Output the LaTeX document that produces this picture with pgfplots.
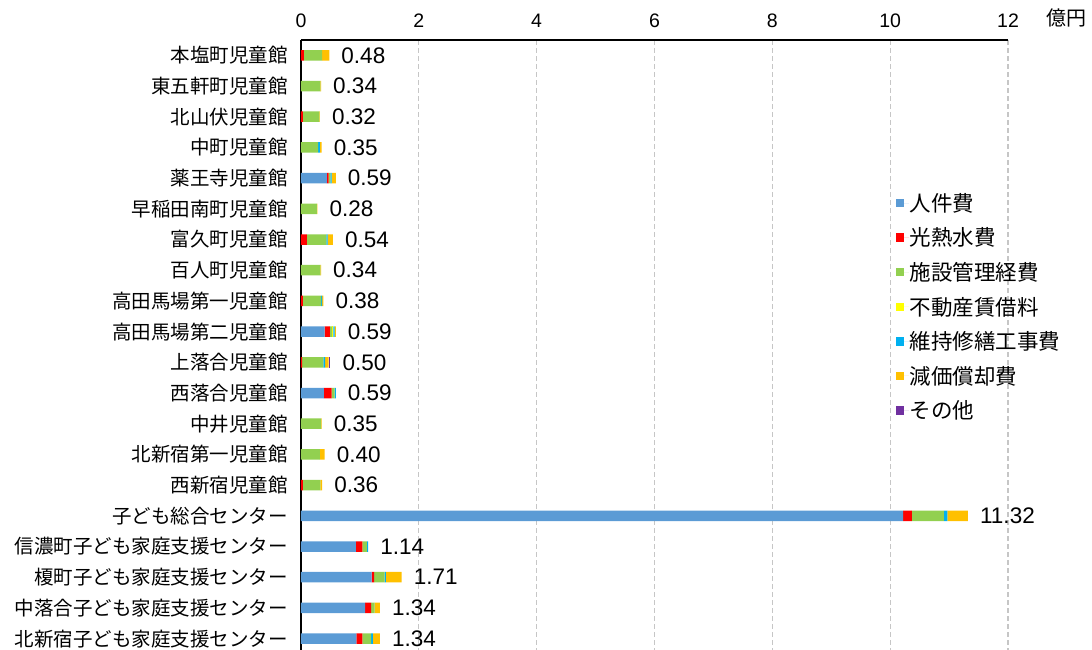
\documentclass[border=0pt]{standalone}
\usepackage{pgfplots}
\usepackage{pgfplotstable}
\pgfplotsset{compat=1.18}
\usepackage{fontspec}
\setmainfont{Liberation Sans}
\newfontfamily\jp{Noto Sans CJK JP}

\definecolor{cPers}{HTML}{5B9BD5}
\definecolor{cUtil}{HTML}{FF0000}
\definecolor{cMgmt}{HTML}{92D050}
\definecolor{cRent}{HTML}{FFFF00}
\definecolor{cRepair}{HTML}{00B0F0}
\definecolor{cDepr}{HTML}{FFC000}
\definecolor{cOther}{HTML}{7030A0}

% y  人件費 光熱水費 施設管理経費 不動産賃借料 維持修繕工事費 減価償却費 その他 合計
\pgfplotstableread{
y  a     b     c     d     e     f     g     lbl
0  0     0.05  0.31  0     0     0.12  0     0.48
1  0     0     0.33  0     0     0.01  0     0.34
2  0     0.03  0.28  0     0     0.01  0     0.32
3  0     0     0.29  0     0.03  0.03  0     0.35
4  0.44  0.03  0.03  0     0.02  0.07  0     0.59
5  0     0     0.27  0     0     0.01  0     0.28
6  0     0.10  0.33  0     0.02  0.09  0     0.54
7  0     0     0.33  0     0     0.01  0     0.34
8  0     0.03  0.31  0     0.02  0.02  0     0.38
9  0.40  0.09  0.04  0.02  0.02  0.02  0     0.59
10 0     0.02  0.36  0     0.03  0.06  0.03  0.50
11 0.39  0.13  0.05  0     0.02  0     0     0.59
12 0     0     0.34  0     0     0.01  0     0.35
13 0     0     0.32  0     0     0.08  0     0.40
14 0     0.03  0.30  0     0     0.03  0     0.36
15 10.22 0.15  0.54  0     0.06  0.35  0     11.32
16 0.93  0.11  0.08  0     0.02  0     0     1.14
17 1.20  0.04  0.18  0     0.02  0.27  0     1.71
18 1.09  0.10  0.06  0     0     0.09  0     1.34
19 0.94  0.10  0.15  0     0.03  0.12  0     1.34
}\costs

\begin{document}
\begin{tikzpicture}
\begin{axis}[
    scale only axis,
    width=707bp, height=610bp,
    xbar stacked,
    bar width=10.5bp,
    xmin=0, xmax=12,
    ymin=-0.5, ymax=19.37,
    y dir=reverse,
    axis x line*=top,
    axis y line*=left,
    axis line style={black, line width=1.8bp},
    xtick={0,2,...,12},
    xmajorgrids,
    grid style={gray!45, line width=1.1bp, dash pattern=on 5bp off 3bp},
    major tick length=0pt,
    ytick={0,...,19},
    yticklabels={本塩町児童館,東五軒町児童館,北山伏児童館,中町児童館,薬王寺児童館,早稲田南町児童館,富久町児童館,百人町児童館,高田馬場第一児童館,高田馬場第二児童館,上落合児童館,西落合児童館,中井児童館,北新宿第一児童館,西新宿児童館,子ども総合センター,信濃町子ども家庭支援センター,榎町子ども家庭支援センター,中落合子ども家庭支援センター,北新宿子ども家庭支援センター},
    yticklabel style={font=\jp\fontsize{19.5bp}{23bp}\selectfont, inner sep=0pt, xshift=-13bp},
    xticklabel style={font=\fontsize{19.5bp}{23bp}\selectfont, inner sep=0pt, yshift=12bp},
    /pgf/number format/assume math mode=true,
    legend style={at={(0.837,0.754)}, anchor=north west, draw=none, fill=none,
        font=\jp\fontsize{21.5bp}{25bp}\selectfont, row sep=13bp,
        nodes={inner sep=1bp}},
    legend cell align=left,
    sq/.style={draw=none, fill=#1,
        legend image code/.code={\fill[#1] (0bp,-4.25bp) rectangle (8.5bp,4.25bp);
            \path (0bp,0bp) -- (13bp,0bp);}},
    clip=false,
]
\addplot[sq=cPers] table[x=a, y=y] {\costs};
\addplot[sq=cUtil] table[x=b, y=y] {\costs};
\addplot[sq=cMgmt] table[x=c, y=y] {\costs};
\addplot[sq=cRent] table[x=d, y=y] {\costs};
\addplot[sq=cRepair] table[x=e, y=y] {\costs};
\addplot[sq=cDepr] table[x=f, y=y] {\costs};
\addplot[sq=cOther] table[x=g, y=y] {\costs};
% totals, written at the end of each stack
\addplot[draw=none, fill=none, forget plot,
    nodes near coords, point meta=explicit symbolic,
    nodes near coords style={anchor=west, inner sep=0pt, xshift=12bp,
        font=\fontsize{22.5bp}{26bp}\selectfont, text=black}]
    table[x expr=0.0001, y=y, meta=lbl] {\costs};
\legend{人件費,光熱水費,施設管理経費,不動産賃借料,維持修繕工事費,減価償却費,その他}
\coordinate (TL) at (axis cs:0,-0.5);
\node[font=\jp\fontsize{20bp}{24bp}\selectfont, anchor=center] at (axis description cs:1.083,1.036) {億円};
\end{axis}
\pgfresetboundingbox
\path[use as bounding box] ([shift={(-301bp,-610bp)}]TL) rectangle ([shift={(791bp,40bp)}]TL);
\end{tikzpicture}
\end{document}
